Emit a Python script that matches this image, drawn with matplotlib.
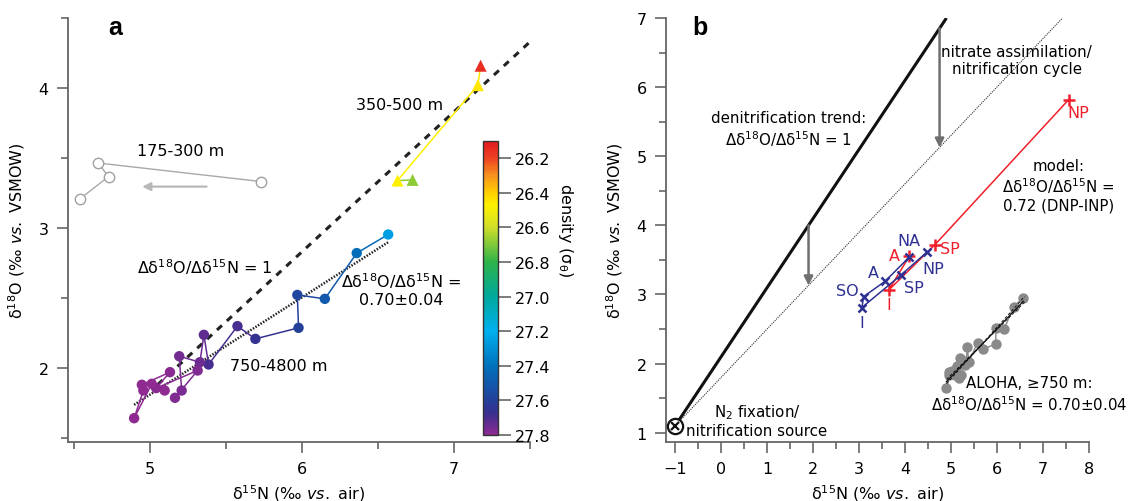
import matplotlib
matplotlib.use('Agg')
import matplotlib.pyplot as plt
from matplotlib.colors import LinearSegmentedColormap, Normalize
from matplotlib.cm import ScalarMappable

plt.rcParams['font.family'] = ['DejaVu Sans']
plt.rcParams['font.size'] = 11.5
plt.rcParams['mathtext.default'] = 'regular'

# ---- panel a: ALOHA profile ----
# 750-4800 m, shallow to deep
deep_n = [6.567, 6.36, 6.15, 5.969, 5.977, 5.693, 5.575, 5.385, 5.354, 5.328, 5.192,
          5.208, 5.164, 5.313, 5.04, 5.131, 4.946, 4.956, 4.895, 5.011, 5.096]
deep_o = [2.953, 2.82, 2.493, 2.521, 2.286, 2.207, 2.298, 2.024, 2.236, 2.04, 2.083,
          1.838, 1.786, 1.981, 1.855, 1.969, 1.879, 1.838, 1.64, 1.886, 1.838]
deep_sig = [27.25, 27.42, 27.5, 27.57, 27.6, 27.66, 27.7, 27.7, 27.73, 27.75, 27.76,
            27.77, 27.78, 27.78, 27.79, 27.79, 27.8, 27.8, 27.8, 27.8, 27.8]

# 350-500 m
mid_n = [7.175, 7.157, 6.628, 6.727]
mid_o = [4.159, 4.02, 3.338, 3.343]
mid_sig = [26.15, 26.45, 26.47, 26.68]

# 175-300 m
shallow_n = [5.732, 4.657, 4.727, 4.538]
shallow_o = [3.331, 3.464, 3.367, 3.207]

# lines in panel a
one_to_one_n = [5.05, 7.5]
one_to_one_o = [1.88, 4.33]
fit_n = [4.895, 6.57]
fit_o = [1.736, 2.9]

# ---- panel b ----
denit_n = [-1, 4.9]
denit_o = [1.1, 7.0]
cycle_n = [-1, 7.41]
cycle_o = [1.1, 6.99]
source_n, source_o = -1, 1.1

red_names = ['A', 'I', 'SP', 'NP']
red_n = [4.09, 3.64, 4.65, 7.56]
red_o = [3.55, 3.06, 3.72, 5.82]

blue_names = ['NA', 'A', 'SO', 'I', 'SP', 'NP']
blue_n = [4.09, 3.565, 3.10, 3.06, 3.91, 4.47]
blue_o = [3.54, 3.19, 2.97, 2.81, 3.28, 3.61]

fit_hi_n, fit_hi_o = [4.9, 6.6], [1.71, 2.97]
fit_lo_n, fit_lo_o = [4.9, 6.6], [1.77, 2.89]

cb_ticks = [26.2, 26.4, 26.6, 26.8, 27.0, 27.2, 27.4, 27.6, 27.8]

# colour scale (low density = red, high = purple)
sig_min, sig_max = 26.1, 27.8
nodes = [(26.1, '#e3191f'), (26.2, '#ee4423'), (26.3, '#f7941d'), (26.4, '#ffd100'),
         (26.47, '#fff200'), (26.6, '#cfdd2b'), (26.8, '#2db34a'), (27.0, '#00a99d'),
         (27.2, '#00b0ef'), (27.4, '#0072bc'), (27.6, '#24409a'), (27.68, '#3a2f8f'),
         (27.8, '#8e2a92')]
cmap = LinearSegmentedColormap.from_list(
    'dens', [((v - sig_min) / (sig_max - sig_min), c) for v, c in nodes])
norm = Normalize(sig_min, sig_max)

W, H = 1130, 502
fig = plt.figure(figsize=(W / 100, H / 100), dpi=100)

def px_axes(l, t, r, b):
    return fig.add_axes([l / W, (H - b) / H, (r - l) / W, (b - t) / H])

def style(ax):
    for s in ['top', 'right']:
        ax.spines[s].set_visible(False)
    for s in ['left', 'bottom']:
        ax.spines[s].set_color('#666666')
        ax.spines[s].set_linewidth(1.3)
    ax.tick_params(which='major', length=8, width=1.2, color='#666666', pad=6)
    ax.tick_params(which='minor', length=5, width=1.2, color='#666666')

DD = 'Δδ$^{18}$O/Δδ$^{15}$N'
xlab = 'δ$^{15}$N (‰ $\\mathit{vs.}$ air)'
ylab = 'δ$^{18}$O (‰ $\\mathit{vs.}$ VSMOW)'
note = 10.8  # size of the longer annotations in panel b

# ================= panel a =================
ax = px_axes(68, 19, 530, 443)
style(ax)
ax.set_xlim(4.46, 7.5)
ax.set_ylim(1.47, 4.5)
ax.set_xticks([5, 6, 7])
ax.set_xticks([4.5, 5.5, 6.5, 7.5], minor=True)
ax.set_yticks([2, 3, 4])
ax.set_yticks([1.5, 2.5, 3.5, 4.5], minor=True)
ax.set_xlabel(xlab, labelpad=4)
ax.set_ylabel(ylab, labelpad=8)

ax.plot(one_to_one_n, one_to_one_o, color='#222222', lw=2.2, ls=(0, (2.2, 2.2)))
ax.plot(fit_n, fit_o, color='#222222', lw=1.8, ls=(0, (0.6, 0.6)))

# shallow profile
ax.plot(shallow_n, shallow_o, color='#a8a8a8', lw=1.0, marker='o', ms=7.5,
        mfc='white', mec='#a0a0a0', mew=1.0)
ax.annotate('', xy=(4.93, 3.295), xytext=(5.39, 3.295),
            arrowprops=dict(arrowstyle='-|>', color='#b8b8b8', lw=1.6, mutation_scale=12))

# coloured profiles, each segment takes the colour of the deeper point
for xs, ys, sg in [(deep_n, deep_o, deep_sig), (mid_n, mid_o, mid_sig)]:
    for i in range(1, len(xs)):
        ax.plot(xs[i - 1:i + 1], ys[i - 1:i + 1], color=cmap(norm(sg[i])), lw=1.1, zorder=3)
ax.scatter(deep_n, deep_o, c=deep_sig, cmap=cmap, norm=norm, s=56, zorder=4, lw=0)
ax.scatter(mid_n, mid_o, c=mid_sig, cmap=cmap, norm=norm, s=75, marker='^', zorder=4, lw=0)

ax.text(0.102, 0.978, 'a', transform=ax.transAxes, fontsize=18, fontweight='bold',
        family='Liberation Sans', ha='center', va='center')
ax.text(5.2, 3.55, '175-300 m', ha='center', va='center')
ax.text(6.64, 3.88, '350-500 m', ha='center', va='center')
ax.text(5.36, 2.73, DD + ' = 1', ha='center', va='center')
ax.text(6.65, 2.565, DD + ' =\n0.70±0.04', ha='center', va='center', linespacing=1.15)
ax.text(5.85, 2.02, '750-4800 m', ha='center', va='center')

# colour bar
cax = px_axes(483, 142, 498, 436)
cb = fig.colorbar(ScalarMappable(norm=norm, cmap=cmap), cax=cax, ticks=cb_ticks)
cax.invert_yaxis()
cb.outline.set_linewidth(1.0)
cb.outline.set_edgecolor('#333333')
cax.tick_params(length=9, width=1.2, color='#666666', pad=3)
cax.set_yticklabels(['%.1f' % t for t in cb_ticks])
cax.minorticks_off()
fig.text(566 / W, 1 - 230 / H, 'density (σ$_θ$)', rotation=270, ha='center', va='center')

# ================= panel b =================
bx = px_axes(666, 19, 1089, 443)
style(bx)
bx.set_xlim(-1.2, 8.0)
bx.set_ylim(0.865, 7.0)
bx.set_xticks(range(-1, 9))
bx.set_xticks([i + 0.5 for i in range(-1, 8)], minor=True)
bx.set_yticks(range(1, 8))
bx.set_yticks([i + 0.5 for i in range(1, 7)], minor=True)
bx.set_xlabel(xlab, labelpad=4)
bx.set_ylabel(ylab, labelpad=8)

bx.plot(denit_n, denit_o, color='#111111', lw=2.2, solid_capstyle='butt')
bx.plot(cycle_n, cycle_o, color='#333333', lw=0.8, ls=(0, (1, 1)))
bx.plot(source_n, source_o, 'o', ms=11, mfc='white', mec='#111111', mew=1.6, zorder=5)
bx.plot(source_n, source_o, 'x', ms=6, mec='#111111', mew=1.6, zorder=6)

arrow = dict(arrowstyle='-|>', color='#6f6f6f', lw=1.8, mutation_scale=13,
             shrinkA=0, shrinkB=0)
bx.annotate('', xy=(1.9, 3.13), xytext=(1.9, 4.0), arrowprops=arrow)
bx.annotate('', xy=(4.75, 5.125), xytext=(4.75, 6.85), arrowprops=arrow)

# ALOHA deep data in grey
bx.plot(deep_n, deep_o, color='#8a8a8a', lw=1.0, zorder=2)
bx.plot(deep_n, deep_o, 'o', ms=7.5, color='#8a8a8a', mec='none', zorder=3)
bx.plot(fit_n, fit_o, color='#111111', lw=0.9, zorder=4)
bx.plot(fit_hi_n, fit_hi_o, color='#111111', lw=0.7, ls=(0, (3, 2)), zorder=4)
bx.plot(fit_lo_n, fit_lo_o, color='#111111', lw=0.7, ls=(0, (3, 2)), zorder=4)

red = '#f0202a'
blue = '#2e3192'
bx.plot(red_n, red_o, color=red, lw=1.1, marker='+', ms=8, mew=1.8, zorder=4)
bx.plot(blue_n, blue_o, color=blue, lw=1.1, marker='x', ms=6, mew=1.8, zorder=4)

red_off = {'A': (-11, 1), 'I': (0, -10), 'SP': (11, -2.5), 'NP': (7, -9)}
blue_off = {'NA': (0, 12), 'A': (-8.5, 6.5), 'SO': (-12, 4), 'I': (0, -11),
            'SP': (9.5, -9), 'NP': (5, -12)}
for name, x, y in zip(red_names, red_n, red_o):
    bx.annotate(name, (x, y), xytext=red_off[name], textcoords='offset points',
                color=red, ha='center', va='center')
for name, x, y in zip(blue_names, blue_n, blue_o):
    bx.annotate(name, (x, y), xytext=blue_off[name], textcoords='offset points',
                color=blue, ha='center', va='center')

bx.text(0.08, 0.978, 'b', transform=bx.transAxes, fontsize=18, fontweight='bold',
        family='Liberation Sans', ha='center', va='center')
bx.text(1.46, 5.4, 'denitrification trend:\n' + DD + ' = 1', ha='center', va='center',
        linespacing=1.2, fontsize=note)
bx.text(6.43, 6.39, 'nitrate assimilation/\nnitrification cycle', ha='center',
        va='center', linespacing=1.2, fontsize=note)
bx.text(7.33, 4.58, 'model:\n' + DD + ' =\n0.72 (DNP-INP)', ha='center', va='center',
        linespacing=1.15, fontsize=note)
bx.text(0.78, 1.18, 'N$_2$ fixation/\nnitrification source', ha='center', va='center',
        linespacing=1.1, fontsize=note)
bx.text(6.7, 1.56, 'ALOHA, ≥750 m:\n' + DD + ' = 0.70±0.04', ha='center',
        va='center', linespacing=1.15, fontsize=note, clip_on=False)

fig.savefig('out.png', dpi=100)
